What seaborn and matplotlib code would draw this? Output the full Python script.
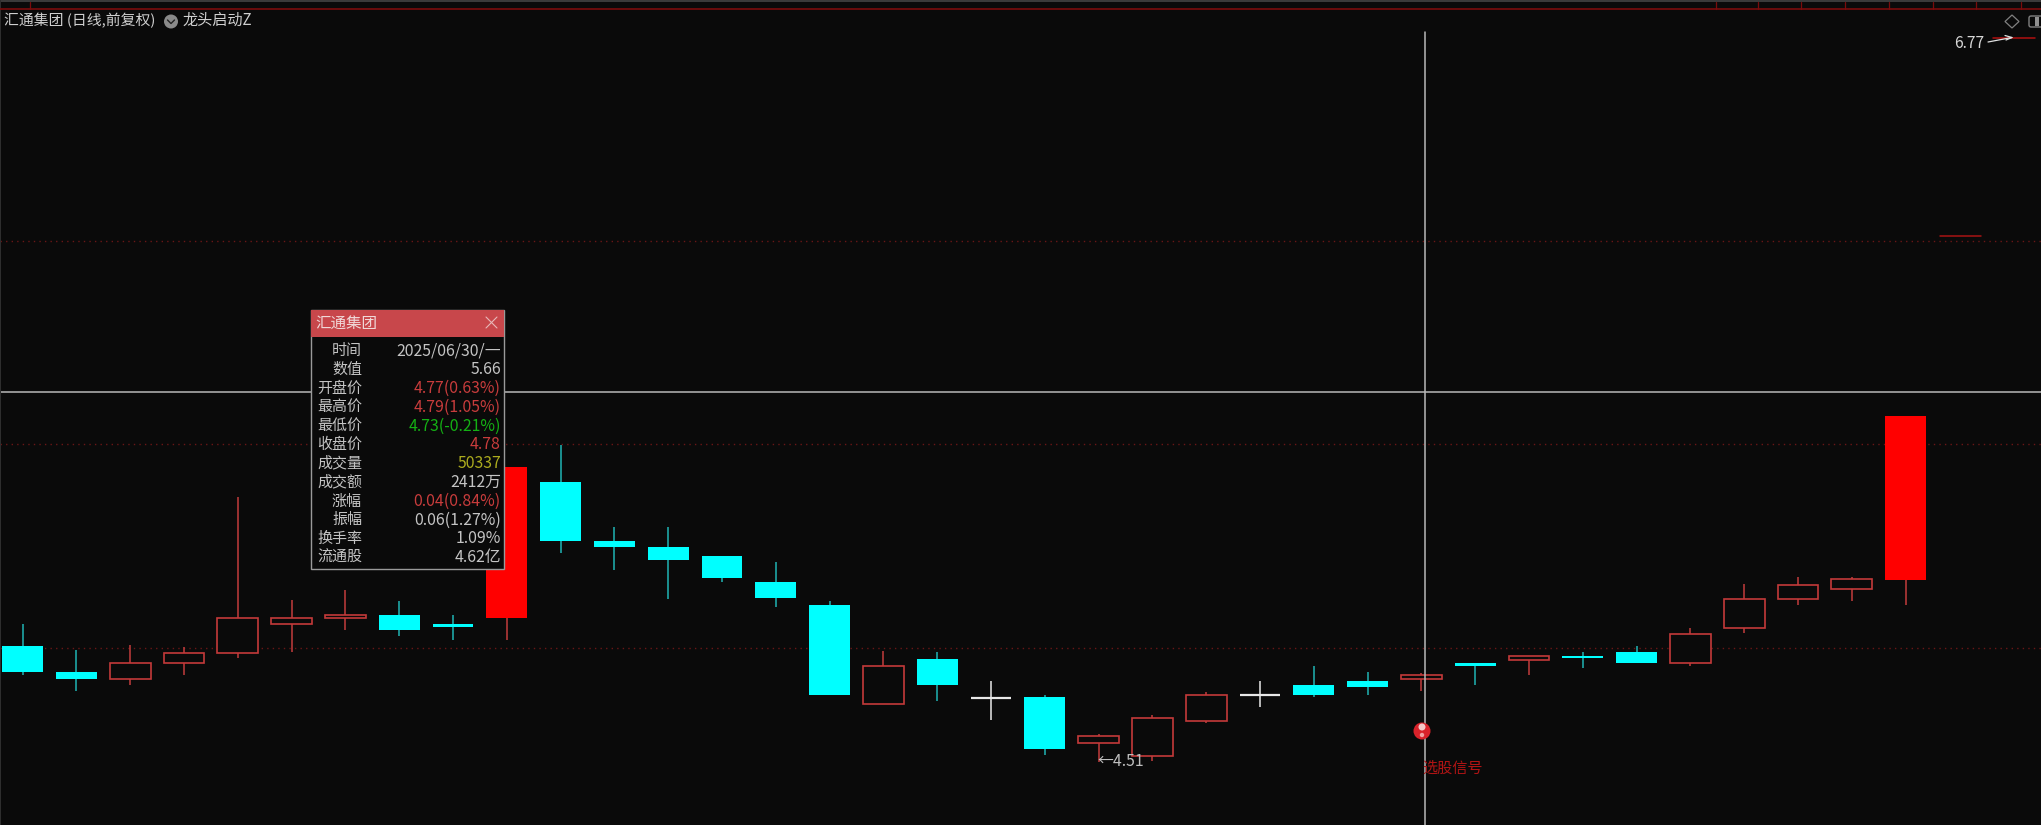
import matplotlib
matplotlib.use("Agg")
import matplotlib.pyplot as plt
import matplotlib.patches as mp
from matplotlib.transforms import Affine2D
import pandas as pd
import seaborn as sns

# --- data (prices) ---
highs = [4.941,4.859,4.875,4.867,5.336,5.015,5.046,5.011,4.968,5.431,5.499,5.242,5.242,5.152,5.133,5.011,4.855,4.852,4.761,4.717,4.597,4.656,4.727,4.761,4.808,4.789,4.786,4.819,4.839,4.852,4.871,4.926,5.066,5.086,5.086,5.590]
tops  = [4.871,4.789,4.819,4.850,4.960,4.960,4.968,4.968,4.941,5.431,5.382,5.199,5.180,5.152,5.070,5.000,4.808,4.832,4.710,4.711,4.589,4.648,4.717,4.717,4.750,4.761,4.781,4.819,4.839,4.839,4.852,4.910,5.019,5.061,5.081,5.590]
bots  = [4.789,4.769,4.767,4.817,4.849,4.939,4.958,4.922,4.930,4.959,5.199,5.180,5.141,5.083,5.020,4.719,4.689,4.750,4.710,4.550,4.567,4.528,4.638,4.717,4.719,4.743,4.767,4.809,4.829,4.833,4.819,4.817,4.927,5.017,5.049,5.078]
lows  = [4.781,4.731,4.750,4.782,4.833,4.852,4.922,4.903,4.890,4.890,5.161,5.110,5.019,5.070,4.992,4.719,4.689,4.700,4.641,4.532,4.510,4.512,4.630,4.681,4.711,4.719,4.731,4.750,4.782,4.802,4.819,4.809,4.911,5.000,5.012,5.000]
kinds = ["d","d","h","h","h","h","h","d","d","s","d","d","d","d","d","d","h","d","x","d","h","h","h","x","d","d","h","d","h","d","d","h","h","h","h","s"]
grid_levels = [6.136, 5.502, 4.865]
cross_price = 5.665
cross_pos = 26.06
cross_top = 6.789
tooltip_title = "汇通集团"
tooltip_labels = ["时间","数值","开盘价","最高价","最低价","收盘价","成交量","成交额","涨幅","振幅","换手率","流通股"]
tooltip_values = ["2025/06/30/一","5.66","4.77(0.63%)","4.79(1.05%)","4.73(-0.21%)","4.78","50337","2412万","0.04(0.84%)","0.06(1.27%)","1.09%","4.62亿"]
tooltip_kinds  = ["n","n","r","r","g","r","y","n","r","n","n","n"]

BG = "#0A0A0A"
CYAN = "#00FFFF"
RED = "#FF0000"
HOLLOW = "#C43A3A"
WICK_C = "#1FB4B4"
WICK_R = "#C23C3C"
WHITE = "#E8E8E8"
GRAY = "#C4C4C4"
W, H = 2041, 825

sns.set_theme(style="dark", rc={"axes.facecolor": BG, "figure.facecolor": BG})
plt.rcParams["font.family"] = ["Noto Sans CJK SC", "DejaVu Sans"]

df = pd.DataFrame({"i": range(36), "high": highs, "top": tops, "bot": bots, "low": lows, "kind": kinds})
df["height"] = df["top"] - df["bot"]

fig = plt.figure(figsize=(W / 100, H / 100), dpi=100, facecolor=BG)
ax = fig.add_axes([0, 0, 1, 1])
px = Affine2D().scale(1 / W, -1 / H).translate(0, 1) + fig.transFigure
order = list(range(36))

# wicks
wick_col = {"d": WICK_C, "h": WICK_R, "s": WICK_R, "x": WHITE}
wicks = df.melt(id_vars=["i", "kind"], value_vars=["high", "low"], value_name="price")
for k, sub in wicks.groupby("kind"):
    sns.lineplot(data=sub, x="i", y="price", units="i", estimator=None, sort=False,
                 color=wick_col[k], linewidth=1.1, legend=False, ax=ax, zorder=2, solid_capstyle="butt")

# bodies
styles = {
    "d": dict(color=CYAN, linewidth=0),
    "s": dict(color=RED, linewidth=0),
    "h": dict(facecolor=BG, edgecolor=HOLLOW, linewidth=1.2),
    "x": dict(facecolor=WHITE, edgecolor=WHITE, linewidth=1.6),
}
for _, row in df.iterrows():
    sns.barplot(data=df[df.i == row.i], x="i", y="height", order=order, width=0.76, bottom=float(row.bot),
                errorbar=None, saturation=1, ax=ax, zorder=3, **styles[row.kind])

ax.set_xlim(-22.6 / 53.8, (W - 22.6) / 53.8)
ax.set_ylim(6.8888 - H * 0.003123, 6.8888)
ax.axis("off")
fig.patch.set_facecolor(BG)

for lv in grid_levels:
    ax.axhline(lv, color="#6A1616", lw=1.0, ls=(0, (1, 3)), zorder=1)

# crosshair
ax.axhline(cross_price, color="#B8B8B8", lw=1.1, zorder=4)
ax.plot([cross_pos, cross_pos], [cross_top, 6.8888 - H * 0.003123], color="#B8B8B8", lw=1.1, zorder=4)


def T(x, y, s, color=GRAY, size=10.7, ha="left", va="center", z=10, **kw):
    return fig.text(x, y, s, transform=px, color=color, fontsize=size, ha=ha, va=va, zorder=z, **kw)


def L(xs, ys, color, lw=1.1, z=9, **kw):
    ax.plot(xs, ys, transform=px, color=color, lw=lw, zorder=z, clip_on=False, **kw)


def R(x0, y0, x1, y1, z=8, **kw):
    ax.add_patch(mp.Rectangle((x0, y0), x1 - x0, y1 - y0, transform=px, zorder=z, clip_on=False, **kw))


# top strip
R(0, 0, W, 2, fc="#3A3A3A", lw=0)
L([0, W], [8.5, 8.5], "#7A0C0C", lw=1.2)
for x in [30, 1716, 1758, 1801, 1845, 1889, 1933, 1976, 2021]:
    L([x, x], [2, 9], "#7A0C0C", lw=0.9)
R(0, 0, 1.2, H, fc="#2E2E2E", lw=0)

# header
T(3.5, 20.5, "汇通集团 (日线,前复权)", color="#CFCFCF")
ax.add_patch(mp.Circle((171, 21.5), 7, transform=px, fc="#8A8A8A", lw=0, zorder=8, clip_on=False))
L([167.5, 171, 174.5], [20, 23.5, 20], "#222222", lw=1.0)
T(183, 20.5, "龙头启动Z", color="#CFCFCF", size=10.9)

# top right marks
L([1993, 2035], [38, 38], "#B01010", lw=1.1)
L([1988, 2012], [42, 37.5], "#E0E0E0", lw=0.9)
L([2005, 2012, 2006], [35.5, 37.5, 40], "#E0E0E0", lw=0.9)
T(1954, 43.5, "6.77", color="#D8D8D8", size=11.2)
L([1940, 1981], [236, 236], "#A81414", lw=1.1)
ax.add_patch(mp.Polygon([(2012, 15), (2019, 21.5), (2012, 28), (2005, 21.5)], transform=px, fc="none",
                        ec="#808080", lw=0.9, zorder=8, clip_on=False))
ax.add_patch(mp.FancyBboxPatch((2029, 16), 20, 11, boxstyle="round,pad=0,rounding_size=2", transform=px, fc="none",
                               ec="#808080", lw=1.0, zorder=8, clip_on=False))
R(2035, 17, 2039, 26, fc="#909090", lw=0)

# annotations
T(1097, 761, "←4.51", color="#BEBEBE", size=11.4)
ax.add_patch(mp.Circle((1422, 731), 8.5, transform=px, fc="#D8222A", lw=0, zorder=8, clip_on=False))
ax.add_patch(mp.Circle((1422, 727), 3.5, transform=px, fc="#F4C8C8", lw=0, zorder=8, clip_on=False))
ax.add_patch(mp.Circle((1422, 735), 2.2, transform=px, fc="#F0A0A0", lw=0, zorder=8, clip_on=False))
T(1422, 768, "选股信号", color="#B01414", size=10.9)

# tooltip
R(311, 310, 504, 569, fc=BG, ec="#9A9A9A", lw=1.0, z=20)
R(311, 310, 504, 337, fc="#C8474B", lw=0, z=21)
T(315.5, 323, tooltip_title, color="#F0D8D8", size=11.2, z=22)
L([486, 497], [317, 328], "#E8B8B8", lw=0.8, z=22)
L([497, 486], [317, 328], "#E8B8B8", lw=0.8, z=22)
palette = {"n": GRAY, "r": "#C83C3C", "g": "#14B014", "y": "#ACAC1E"}
row_ys = [351.5, 370, 388.8, 407.3, 426, 444.8, 463.5, 482.5, 501.5, 520, 538.8, 557.5]
for y, lab, val, k in zip(row_ys, tooltip_labels, tooltip_values, tooltip_kinds):
    T(362, y, lab, color=GRAY, ha="right", size=10.8, z=22)
    T(501, y, val, color=palette[k], ha="right", size=11.4, z=22)

fig.savefig("out.png", dpi=100, facecolor=BG)
